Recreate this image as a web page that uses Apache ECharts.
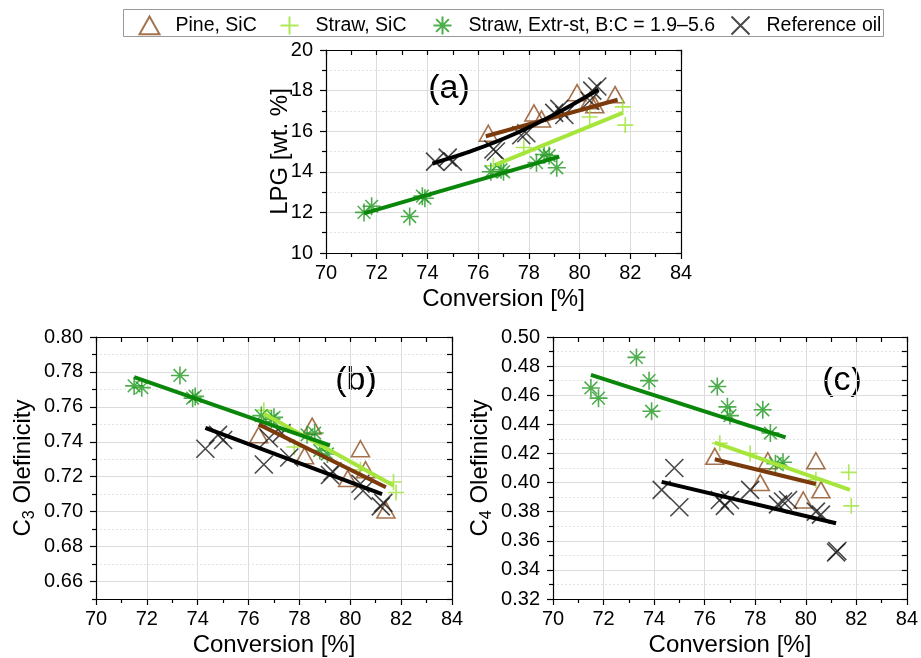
<!DOCTYPE html>
<html>
<head>
<meta charset="utf-8">
<script src="https://cdn.jsdelivr.net/npm/echarts@6/dist/echarts.min.js"></script>
<style>html,body{margin:0;padding:0;background:#fff}#c{width:921px;height:658px}</style>
</head>
<body>
<div id="c"></div>
<script>
// ---------- tick labels ----------
var xMajor = [70, 72, 74, 76, 78, 80, 82, 84];
var xMinor = [71, 73, 75, 77, 79, 81, 83];
var xAll = [70, 71, 72, 73, 74, 75, 76, 77, 78, 79, 80, 81, 82, 83, 84];
var yMajorA = [10, 12, 14, 16, 18, 20];
var yMinorA = [11, 13, 15, 17, 19];
var yMajorB = [0.66, 0.68, 0.70, 0.72, 0.74, 0.76, 0.78, 0.80];
var yMinorB = [0.65, 0.67, 0.69, 0.71, 0.73, 0.75, 0.77, 0.79];
var yMajorC = [0.32, 0.34, 0.36, 0.38, 0.40, 0.42, 0.44, 0.46, 0.48, 0.50];
var yMinorC = [0.33, 0.35, 0.37, 0.39, 0.41, 0.43, 0.45, 0.47, 0.49];

// ---------- series names ----------
var seriesNames = ['Pine, SiC', 'Straw, SiC', 'Straw, Extr-st, B:C = 1.9\u20135.6', 'Reference oil'];

// ---------- Pine, SiC ----------
var pineX   = [76.4, 78.2, 78.5, 79.9, 80.4, 80.6, 81.4];
var pineLPG = [15.9, 16.9, 16.6, 17.9, 17.5, 17.3, 17.8];
var pineC3  = [0.744, 0.732, 0.749, 0.719, 0.736, 0.724, 0.701];
var pineC4  = [0.418, 0.400, 0.415, 0.388, 0.415, 0.395, null];

// ---------- Straw, SiC ----------
var strawX   = [76.6, 77.8, 80.4, 81.7, 81.8];
var strawLPG = [14.3, 15.2, 16.7, 17.2, 16.3];
var strawC3  = [0.758, 0.737, 0.724, 0.717, 0.711];
var strawC4  = [0.427, 0.420, 0.402, 0.407, 0.384];

// ---------- Straw, Extr-st ----------
var extrX   = [71.5, 71.8, 73.3, 73.8, 73.9, 76.5, 76.9, 77.0, 78.3, 78.6, 78.8, 79.1];
var extrLPG = [12.0, 12.3, 11.8, 12.8, 12.7, 14.0, 14.1, 14.0, 14.45, 14.85, 14.8, 14.2];
var extrC3  = [0.772, 0.771, 0.778, 0.765, 0.766, 0.755, 0.753, 0.754, 0.744, 0.745, 0.735, 0.733];
var extrC4  = [0.465, 0.458, 0.486, 0.470, 0.449, 0.466, 0.452, 0.446, 0.450, 0.434, 0.413, 0.414];

// ---------- Reference oil ----------
var refXa  = [74.3, 74.8, 75.0, 76.6, 76.7, 77.7, 77.9, 79.0, 79.2, 79.4, 80.4, 80.5, 80.7];
var refLPG = [14.5, 14.7, 14.5, 15.1, 15.0, 15.8, 15.9, 16.9, 17.1, 16.8, 17.5, 18.0, 18.2];
var refXb  = [74.3, 74.8, 75.0, 76.6, 76.8, 77.3, 77.6, 79.2, 79.3, 80.4, 80.5, 81.2, 81.3];
var refC3  = [0.736, 0.744, 0.741, 0.727, 0.742, 0.745, 0.731, 0.721, 0.723, 0.716, 0.712, 0.703, 0.705];
var refXc  = [74.3, 74.8, 75.0, 76.6, 76.8, 77.0, 77.8, 78.9, 79.1, 79.3, 80.4, 80.6, 81.2, 81.25];
var refC4  = [0.395, 0.410, 0.383, 0.388, 0.384, 0.388, 0.395, 0.385, 0.387, 0.388, 0.380, 0.378, 0.352, 0.353];

// ---------- fit lines ----------
var fitPineA  = [[76.3, 15.75], [81.5, 17.55]];
var fitStrawA = [[76.7, 14.35], [81.7, 16.9]];
var fitExtrA  = [[71.5, 11.95], [79.2, 14.75]];
var fitRefA   = [[74.2, 14.4], [75.8, 15.05], [77.5, 15.9], [79.1, 16.88], [80.75, 18.05]];
var fitPineB  = [[76.4, 0.750], [81.4, 0.714]];
var fitStrawB = [[76.6, 0.756], [81.7, 0.715]];
var fitExtrB  = [[71.5, 0.777], [79.2, 0.738]];
var fitRefB   = [[74.3, 0.748], [81.25, 0.710]];
var fitPineC  = [[76.4, 0.416], [80.4, 0.399]];
var fitStrawC = [[76.4, 0.4275], [81.75, 0.395]];
var fitExtrC  = [[71.5, 0.474], [79.2, 0.431]];
var fitRefC   = [[74.3, 0.4005], [81.2, 0.372]];

// ---------- style ----------
var FONT = 'Liberation Sans, Arial, sans-serif';
var COL = {
  pine: '#8f4f22', pineLine: '#7a3a0c',
  straw: '#9be22f', strawLine: '#a6e63c',
  extr: '#229a22', extrLine: '#0a870a',
  ref: '#1a1a1a', refLine: '#000000'
};
var SYM = {
  tri: 'path://M0,-10L9,6L-9,6Z',
  plus: 'path://M0,-10L0,10M-10,0L10,0',
  star: 'path://M0,-10L0,10M-10,0L10,0M-7.07,-7.07L7.07,7.07M-7.07,7.07L7.07,-7.07',
  cross: 'path://M-10,-10L10,10M-10,10L10,-10'
};

function zip(xs, ys) {
  var out = [];
  for (var i = 0; i < xs.length; i++) {
    if (ys[i] !== null && ys[i] !== undefined) out.push([xs[i], ys[i]]);
  }
  return out;
}

var grids = [
  {left: 326, top: 50, width: 355, height: 203},
  {left: 96, top: 337, width: 356, height: 262},
  {left: 553, top: 337, width: 356, height: 262}
];

var axisLineStyle = {color: '#000', width: 1.2};
var xAxes = [], yAxes = [];

function addX(g, name, nameGap) {
  xAxes.push({
    gridIndex: g, type: 'value', min: 70, max: 84, interval: 2, position: 'bottom',
    name: name, nameLocation: 'middle', nameGap: nameGap, nameMoveOverlap: false,
    nameTextStyle: {fontSize: 24, fontFamily: FONT, color: '#000'},
    axisLine: {show: true, onZero: false, lineStyle: axisLineStyle},
    axisTick: {show: true, customValues: xMajor, inside: false, length: 6, lineStyle: axisLineStyle},
    axisLabel: {show: true, customValues: xMajor, fontSize: 20, fontFamily: FONT, color: '#000', margin: 10},
    splitLine: {show: true, lineStyle: {color: '#dcdcdc', width: 1}}
  });
  xAxes.push({
    gridIndex: g, type: 'value', min: 70, max: 84, position: 'bottom',
    axisLine: {show: false, onZero: false},
    axisTick: {show: true, customValues: xMinor, inside: false, length: 4, lineStyle: axisLineStyle},
    axisLabel: {show: false}, splitLine: {show: false}
  });
  xAxes.push({
    gridIndex: g, type: 'value', min: 70, max: 84, position: 'top',
    axisLine: {show: true, onZero: false, lineStyle: axisLineStyle},
    axisTick: {show: true, customValues: xAll, inside: true, length: 5, lineStyle: axisLineStyle},
    axisLabel: {show: false}, splitLine: {show: false}
  });
}

function addY(g, min, max, major, minor, name, nameGap, dec, rich) {
  var all = major.concat(minor).sort(function (a, b) { return a - b; });
  var nts = {fontSize: 24, fontFamily: FONT, color: '#000'};
  if (rich) nts.rich = rich;
  yAxes.push({
    gridIndex: g, type: 'value', min: min, max: max, position: 'left',
    name: name, nameLocation: 'middle', nameGap: nameGap, nameMoveOverlap: false, nameTextStyle: nts,
    axisLine: {show: true, onZero: false, lineStyle: axisLineStyle},
    axisTick: {show: true, customValues: major, inside: false, length: 6, lineStyle: axisLineStyle},
    axisLabel: {show: true, customValues: major, fontSize: 20, fontFamily: FONT, color: '#000', margin: 13,
      formatter: function (v) { return v.toFixed(dec); }},
    splitLine: {show: true, lineStyle: {color: '#dcdcdc', width: 1}}
  });
  yAxes.push({
    gridIndex: g, type: 'value', min: min, max: max, position: 'left',
    axisLine: {show: false, onZero: false},
    axisTick: {show: true, customValues: minor, inside: false, length: 4, lineStyle: axisLineStyle},
    axisLabel: {show: false},
    splitLine: {show: true, lineStyle: {color: '#e3e3e3', width: 1, type: [2, 2]}}
  });
  yAxes.push({
    gridIndex: g, type: 'value', min: min, max: max, position: 'right',
    axisLine: {show: true, onZero: false, lineStyle: axisLineStyle},
    axisTick: {show: true, customValues: all, inside: true, length: 5, lineStyle: axisLineStyle},
    axisLabel: {show: false}, splitLine: {show: false}
  });
}

var subRich = {
  n: {fontSize: 24, fontFamily: FONT, color: '#000', lineHeight: 30, verticalAlign: 'middle'},
  s: {fontSize: 16, fontFamily: FONT, color: '#000', lineHeight: 30, verticalAlign: 'bottom'}
};

addX(0, 'Conversion [%]', 34);
addX(1, 'Conversion [%]', 34);
addX(2, 'Conversion [%]', 34);
addY(0, 10, 20, yMajorA, yMinorA, 'LPG [wt. %]', 34, 0, null);
addY(1, 0.65, 0.80, yMajorB, yMinorB, '{n|C}{s|3}{n| Olefinicity}', 58, 2, subRich);
addY(2, 0.32, 0.50, yMajorC, yMinorC, '{n|C}{s|4}{n| Olefinicity}', 58, 2, subRich);

var series = [];
function scatter(g, name, data, sym, size, color) {
  series.push({
    type: 'scatter', name: name, xAxisIndex: g * 3, yAxisIndex: g * 3,
    data: data, symbol: sym, symbolSize: size, silent: true,
    itemStyle: {color: 'none', borderColor: color, borderWidth: 1.6},
    emphasis: {disabled: true}
  });
}
function fit(g, tag, data, color, smooth) {
  series.push({
    type: 'line', name: 'fit-' + tag + '-' + g, xAxisIndex: g * 3, yAxisIndex: g * 3,
    data: data, symbol: 'none', smooth: smooth || false, silent: true,
    lineStyle: {color: color, width: 4}, emphasis: {disabled: true}
  });
}

var panelData = [
  {pine: zip(pineX, pineLPG), straw: zip(strawX, strawLPG), extr: zip(extrX, extrLPG), ref: zip(refXa, refLPG),
   fits: [fitPineA, fitStrawA, fitExtrA, fitRefA]},
  {pine: zip(pineX, pineC3), straw: zip(strawX, strawC3), extr: zip(extrX, extrC3), ref: zip(refXb, refC3),
   fits: [fitPineB, fitStrawB, fitExtrB, fitRefB]},
  {pine: zip(pineX, pineC4), straw: zip(strawX, strawC4), extr: zip(extrX, extrC4), ref: zip(refXc, refC4),
   fits: [fitPineC, fitStrawC, fitExtrC, fitRefC]}
];

panelData.forEach(function (p, g) {
  scatter(g, seriesNames[0], p.pine, SYM.tri, [18, 16], COL.pine);
  scatter(g, seriesNames[1], p.straw, SYM.plus, 16, COL.straw);
  scatter(g, seriesNames[2], p.extr, SYM.star, 18, COL.extr);
  scatter(g, seriesNames[3], p.ref, SYM.cross, 18, COL.ref);
  fit(g, 'pine', p.fits[0], COL.pineLine);
  fit(g, 'straw', p.fits[1], COL.strawLine);
  fit(g, 'extr', p.fits[2], COL.extrLine);
  fit(g, 'ref', p.fits[3], COL.refLine, g === 0 ? 0.3 : false);
});

// one legend component per entry, placed like the reference
var legendLefts = [137, 278, 431, 729];
var legends = seriesNames.map(function (nm, i) {
  return {
    data: [nm], left: legendLefts[i], top: 14, selectedMode: false,
    padding: 0, itemWidth: 20, itemHeight: 18, symbolKeepAspect: true,
    textStyle: {fontSize: 19.5, fontFamily: FONT, color: '#000', padding: [0, 0, 0, 11]}
  };
});

var option = {
  backgroundColor: '#fff',
  animation: false,
  grid: grids,
  xAxis: xAxes,
  yAxis: yAxes,
  legend: legends,
  graphic: [
    {type: 'rect', shape: {x: 123.5, y: 9.5, width: 760, height: 27}, style: {fill: 'none', stroke: '#999', lineWidth: 1}, silent: true},
    {type: 'text', x: 449, y: 89, style: {text: '(a)', fontSize: 34, fontFamily: FONT, fill: '#000', align: 'center', verticalAlign: 'middle'}},
    {type: 'text', x: 356, y: 381, style: {text: '(b)', fontSize: 34, fontFamily: FONT, fill: '#000', align: 'center', verticalAlign: 'middle'}},
    {type: 'text', x: 842, y: 381, style: {text: '(c)', fontSize: 34, fontFamily: FONT, fill: '#000', align: 'center', verticalAlign: 'middle'}}
  ],
  series: series
};

var chart = echarts.init(document.getElementById('c'), null, {renderer: 'canvas'});
chart.setOption(option);
</script>
</body>
</html>
